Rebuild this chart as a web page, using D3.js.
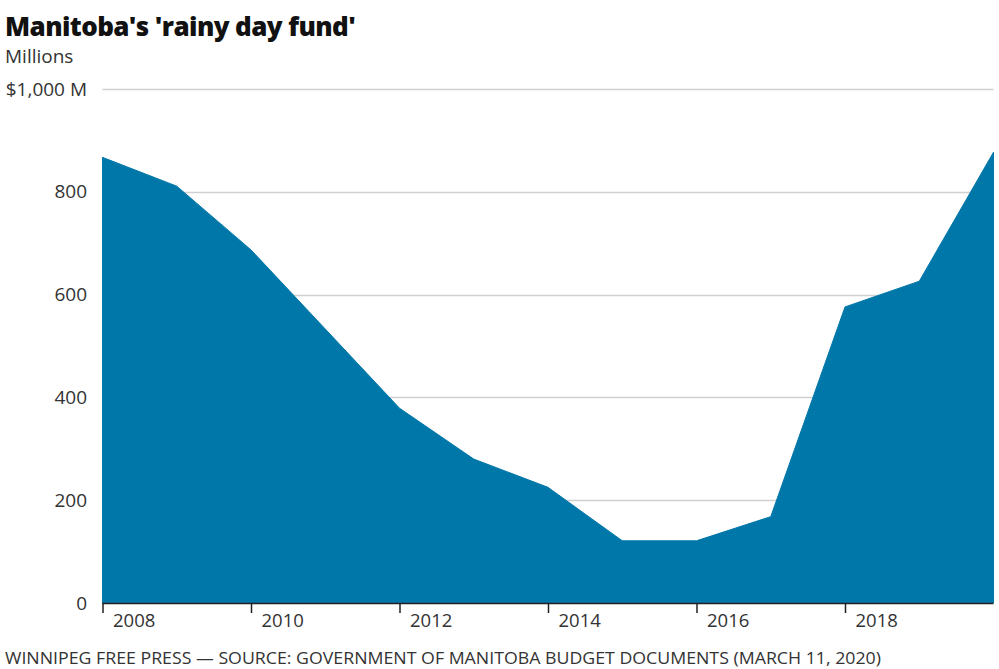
<!DOCTYPE html>
<html>
<head>
<meta charset="utf-8">
<script src="https://cdn.jsdelivr.net/npm/d3@7"></script>
<style>
  html, body { margin: 0; padding: 0; background: #fff; }
  svg { display: block; font-family: "Open Sans", "Noto Sans", sans-serif; }
</style>
</head>
<body>
<svg id="chart" width="999" height="669"></svg>
<script>
const title = "Manitoba's 'rainy day fund'";
const subtitle = "Millions";
const footer = "WINNIPEG FREE PRESS — SOURCE: GOVERNMENT OF MANITOBA BUDGET DOCUMENTS (MARCH 11, 2020)";
const years = [2008, 2009, 2010, 2011, 2012, 2013, 2014, 2015, 2016, 2017, 2018, 2019, 2020];
const values = [867, 811, 687, 533, 379, 280, 225, 121, 121, 168, 576, 626, 877];
const yTicks = [0, 200, 400, 600, 800, 1000];
const xTicks = [2008, 2010, 2012, 2014, 2016, 2018];

const svg = d3.select("#chart");
const x = d3.scaleLinear().domain([2008, 2020]).range([102.5, 993.5]);
const y = d3.scaleLinear().domain([0, 1000]).range([603, 89]);
const data = years.map((yr, i) => ({ year: yr, value: values[i] }));

svg.append("text").attr("x", 5).attr("y", 36)
  .attr("font-size", 26).attr("font-weight", 800).attr("fill", "#111")
  .attr("letter-spacing", -0.6)
  .text(title);
svg.append("text").attr("x", 5).attr("y", 63)
  .attr("font-size", 19).attr("fill", "#333").text(subtitle);

// gridlines
const grid = svg.append("g");
grid.selectAll("line").data(yTicks.filter(d => d > 0)).join("line")
  .attr("x1", x(2008)).attr("x2", x(2020))
  .attr("y1", d => Math.round(y(d)) + 0.5).attr("y2", d => Math.round(y(d)) + 0.5)
  .attr("stroke", "#d0d0d0").attr("stroke-width", 1.5);

// area
const area = d3.area().x(d => x(d.year)).y0(y(0)).y1(d => y(d.value));
svg.append("path").datum(data).attr("d", area)
  .attr("fill", "#0077a9").attr("stroke", "#0077a9").attr("stroke-width", 1)
  .attr("stroke-linejoin", "round");

// y labels
svg.append("g").selectAll("text").data(yTicks).join("text")
  .attr("x", 87).attr("y", d => y(d)).attr("dy", "0.35em")
  .attr("text-anchor", "end").attr("font-size", 19).attr("fill", "#333")
  .text(d => d === 1000 ? "$1,000 M" : d3.format(",")(d));

// x axis
const xAxis = d3.axisBottom(x).tickValues(xTicks).tickFormat(d3.format("d")).tickSize(10).tickSizeOuter(0);
const gx = svg.append("g").attr("transform", `translate(0,${y(0)})`).call(xAxis);
gx.select(".domain").attr("stroke", "#222").attr("stroke-width", 1.5)
  .attr("d", `M${x(2008)},0.5H${x(2020)}`);
gx.selectAll(".tick line").attr("stroke", "#222").attr("stroke-width", 1.5);
gx.selectAll(".tick text").attr("x", 10).attr("y", 11).attr("dy", "0.71em")
  .attr("text-anchor", "start").attr("font-size", 18.5).attr("fill", "#333")
  .attr("font-family", "'Open Sans', 'Noto Sans', sans-serif");

svg.append("text").attr("x", 5).attr("y", 664)
  .attr("font-size", 17).attr("fill", "#333")
  .attr("textLength", 876).attr("lengthAdjust", "spacingAndGlyphs")
  .text(footer);
</script>
</body>
</html>
